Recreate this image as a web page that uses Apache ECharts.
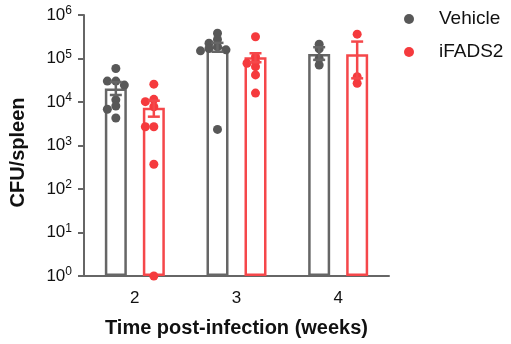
<!DOCTYPE html>
<html>
<head>
<meta charset="utf-8">
<script src="https://cdn.jsdelivr.net/npm/echarts@6/dist/echarts.min.js"></script>
<style>html,body{margin:0;padding:0;background:#fff}#c{width:511px;height:344px}</style>
</head>
<body>
<div id="c"></div>
<script>
// ---- data ----
const categories = ['2', '3', '4'];
const yTicks = [1, 10, 100, 1000, 10000, 100000, 1000000];

const vehicleMean = [20500, 186000, 127000];
const vehicleErrLow = [14500, 143000, 93000];
const vehicleErrHigh = [28800, 229000, 182000];
const vehiclePoints = [
  [58900, 30200, 30200, 24500, 11200, 8100, 6800, 4300],
  [380000, 275000, 224000, 186000, 170000, 158000, 150000, 2340],
  [214000, 166000, 100000, 71000]
];

const ifadsMean = [7400, 107000, 126000];
const ifadsErrLow = [4600, 82000, 35000];
const ifadsErrHigh = [10700, 132000, 245000];
const ifadsPoints = [
  [25700, 11500, 10200, 7800, 2700, 2700, 370, 1],
  [316000, 110000, 85000, 78000, 65000, 42000, 16000],
  [363000, 38000, 27000]
];

// ---- style ----
const GRAY = '#666666', GRAY_DOT = '#585858';
const RED = '#f5474a', RED_DOT = '#f53a3d';
const BAR_W = 22, BAR_GAP = 16, DOT = 9, SLOT = 8.5, MIN_DIST = 4.5;
const HALF = (BAR_W + BAR_GAP) / 2;

const chart = echarts.init(document.getElementById('c'), null, {renderer: 'canvas'});

function errSeries(name, low, high, color, dx) {
  return {
    name: name, type: 'custom', z: 4,
    data: low.map((l, i) => [i, l, high[i]]),
    encode: {x: 0, y: [1, 2]},
    renderItem: function (params, api) {
      const lo = api.coord([api.value(0), api.value(1)]);
      const hi = api.coord([api.value(0), api.value(2)]);
      const x = lo[0] + dx, cw = 6;
      const st = {stroke: color, lineWidth: 2.5};
      return {type: 'group', children: [
        {type: 'line', shape: {x1: x, y1: lo[1], x2: x, y2: hi[1]}, style: st},
        {type: 'line', shape: {x1: x - cw, y1: lo[1], x2: x + cw, y2: lo[1]}, style: st},
        {type: 'line', shape: {x1: x - cw, y1: hi[1], x2: x + cw, y2: hi[1]}, style: st}
      ]};
    }
  };
}

function swarm(values, pxPerLog) {
  const placed = [];
  return values.map(v => {
    const y = Math.log10(v) * pxPerLog;
    for (const k of [0, -1, 1, -2, 2, -3, 3]) {
      const ok = placed.every(p => {
        const dx = (k - p.k) * SLOT, dy = y - p.y;
        return dx * dx + dy * dy >= MIN_DIST * MIN_DIST;
      });
      if (ok) { placed.push({k: k, y: y}); return k; }
    }
    return 0;
  });
}

function dotData(groups, dx, pxPerLog) {
  const out = [];
  groups.forEach((vals, i) => {
    const slots = swarm(vals, pxPerLog);
    vals.forEach((v, j) => {
      out.push({value: [i, v], symbolOffset: [dx + slots[j] * SLOT, 0]});
    });
  });
  return out;
}

function supLabel(v) {
  const e = Math.round(Math.log10(v));
  return '{b|10}{s|' + e + '}';
}

function buildOption(pxPerLog) {
  return {
    animation: false,
    backgroundColor: '#fff',
    grid: {left: 82, top: 15, width: 307, height: 261, containLabel: false},
    legend: {
      orient: 'vertical', left: 404, top: 9, padding: 0,
      itemWidth: 10, itemHeight: 10, itemGap: 13,
      textStyle: {fontFamily: 'Liberation Sans', fontSize: 19, color: '#111', lineHeight: 20, padding: [0, 0, 0, 20]},
      data: [
        {name: 'Vehicle', icon: 'circle', itemStyle: {color: GRAY_DOT}},
        {name: 'iFADS2', icon: 'circle', itemStyle: {color: RED_DOT}}
      ],
      selectedMode: false
    },
    xAxis: {
      type: 'category', data: categories, boundaryGap: true,
      axisLine: {lineStyle: {color: GRAY, width: 2}},
      axisTick: {alignWithLabel: true, length: 6, lineStyle: {color: GRAY, width: 2}},
      axisLabel: {fontFamily: 'Liberation Sans', fontSize: 17, color: '#111', margin: 14},
      name: 'Time post-infection (weeks)', nameLocation: 'middle', nameGap: 42,
      nameTextStyle: {fontFamily: 'Liberation Sans', fontSize: 20, fontWeight: 'bold', color: '#111'}
    },
    yAxis: {
      type: 'log', logBase: 10, min: yTicks[0], max: yTicks[yTicks.length - 1],
      splitLine: {show: false},
      axisLine: {show: true, lineStyle: {color: GRAY, width: 2}},
      axisTick: {show: true, length: 6, lineStyle: {color: GRAY, width: 2}},
      minorTick: {show: false},
      axisLabel: {
        margin: 12, color: '#111',
        formatter: function (v) { return supLabel(v); },
        rich: {
          b: {fontFamily: 'Liberation Sans', fontSize: 17, color: '#111', lineHeight: 20},
          s: {fontFamily: 'Liberation Sans', fontSize: 12, color: '#111', verticalAlign: 'top', lineHeight: 12}
        }
      },
      name: 'CFU/spleen', nameLocation: 'middle', nameGap: 56, nameRotate: 90,
      nameTextStyle: {fontFamily: 'Liberation Sans', fontSize: 20, fontWeight: 'bold', color: '#111', padding: [0, 0, 0, -14]}
    },
    series: [
      {name: 'Vehicle bar', type: 'bar', data: vehicleMean, barWidth: BAR_W, barGap: (BAR_GAP / BAR_W * 100) + '%', z: 2,
       itemStyle: {color: '#fff', borderColor: GRAY, borderWidth: 2.5}},
      {name: 'iFADS2 bar', type: 'bar', data: ifadsMean, barWidth: BAR_W, z: 2,
       itemStyle: {color: '#fff', borderColor: RED, borderWidth: 2.5}},
      {name: 'Vehicle', type: 'scatter', symbol: 'circle', symbolSize: DOT, z: 3,
       itemStyle: {color: GRAY_DOT, opacity: 1},
       data: dotData(vehiclePoints, -HALF, pxPerLog)},
      {name: 'iFADS2', type: 'scatter', symbol: 'circle', symbolSize: DOT, z: 3,
       itemStyle: {color: RED_DOT, opacity: 1},
       data: dotData(ifadsPoints, HALF, pxPerLog)},
      errSeries('Vehicle err', vehicleErrLow, vehicleErrHigh, GRAY, -HALF),
      errSeries('iFADS2 err', ifadsErrLow, ifadsErrHigh, RED, HALF)
    ]
  };
}

chart.setOption(buildOption(43.5));
const p1 = chart.convertToPixel({yAxisIndex: 0}, 1);
const p10 = chart.convertToPixel({yAxisIndex: 0}, 10);
const pxPerLog = Math.abs(p1 - p10) || 43.5;
chart.setOption(buildOption(pxPerLog), true);
</script>
</body>
</html>
